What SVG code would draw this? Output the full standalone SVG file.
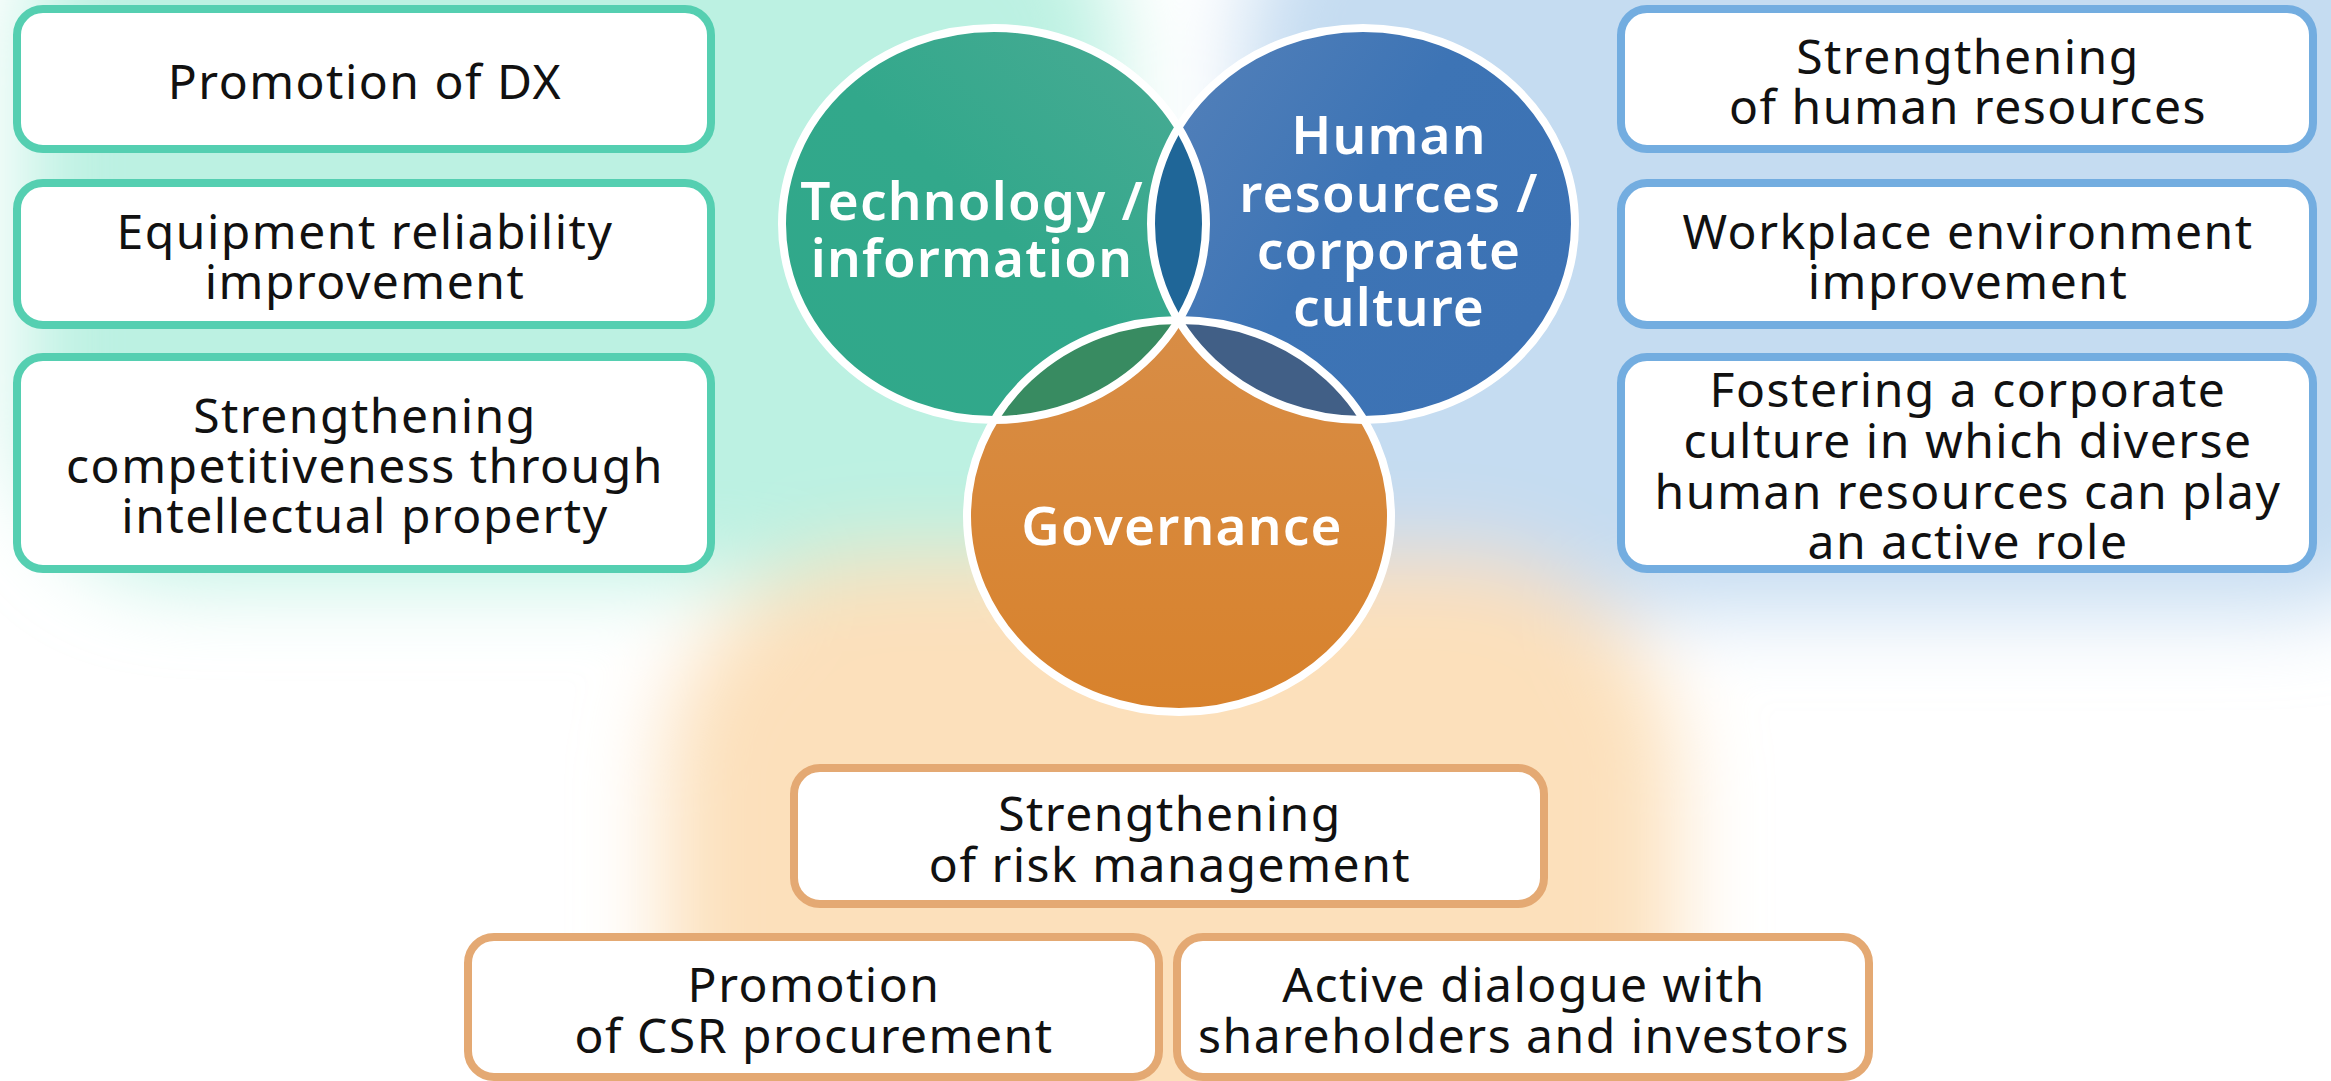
<svg xmlns="http://www.w3.org/2000/svg" width="2331" height="1081" viewBox="0 0 2331 1081">
  <defs>
    <style>
      .box { fill: #ffffff; stroke-width: 8; }
      .teal { stroke: #55cfb1; }
      .blue { stroke: #73ade0; }
      .amber { stroke: #e4a973; }
      .label { font-family: "Noto Sans", "Liberation Sans", sans-serif; font-size: 48px; letter-spacing: 1.5px; fill: #111111; text-anchor: middle; }
      .ring { fill: none; stroke: #ffffff; stroke-width: 8; }
      .title { font-family: "Noto Sans", "Liberation Sans", sans-serif; font-size: 53px; font-weight: 600; letter-spacing: 1.2px; fill: #ffffff; text-anchor: middle; }
    </style>
    <filter id="soft" filterUnits="userSpaceOnUse" x="-300" y="-300" width="2931" height="1681">
      <feGaussianBlur stdDeviation="42"/>
    </filter>
    <linearGradient id="gTech" x1="1" y1="0" x2="0" y2="1">
      <stop offset="0" stop-color="#4bab95"/>
      <stop offset="0.5" stop-color="#32a88b"/>
      <stop offset="1" stop-color="#30a88a"/>
    </linearGradient>
    <linearGradient id="gHuman" x1="0" y1="0" x2="1" y2="0.6">
      <stop offset="0" stop-color="#5682ba"/>
      <stop offset="0.55" stop-color="#3d74b5"/>
      <stop offset="1" stop-color="#3c72b4"/>
    </linearGradient>
    <linearGradient id="gGov" x1="0" y1="0" x2="0" y2="1">
      <stop offset="0" stop-color="#d88d46"/>
      <stop offset="1" stop-color="#d8822c"/>
    </linearGradient>
    <ellipse id="shTech" cx="994" cy="224" rx="212" ry="196"/>
    <ellipse id="shHuman" cx="1363" cy="224" rx="212" ry="196"/>
    <ellipse id="shGov" cx="1179" cy="516" rx="212" ry="196"/>
    <clipPath id="clipTech"><use href="#shTech"/></clipPath>
    <clipPath id="clipHuman"><use href="#shHuman"/></clipPath>
  </defs>

  <!-- soft coloured backdrops behind each cluster -->
  <rect width="2331" height="1081" fill="#ffffff"/>
  <g filter="url(#soft)">
    <rect x="25" y="-120" width="1090" height="700" rx="160" fill="#bcf1e2"/>
    <rect x="1245" y="-120" width="1200" height="730" rx="160" fill="#c5dcf1"/>
    <rect x="665" y="555" width="1010" height="640" rx="220" fill="#fce0bb"/>
  </g>

  <!-- three overlapping themes -->
  <g id="theme-technology">
    <use href="#shTech" fill="url(#gTech)"/>
  </g>
  <g id="theme-human">
    <use href="#shHuman" fill="url(#gHuman)"/>
  </g>
  <g id="theme-governance">
    <use href="#shGov" fill="url(#gGov)"/>
  </g>
  <g id="overlaps">
    <use href="#shHuman" fill="#1f6698" clip-path="url(#clipTech)"/>
    <use href="#shGov" fill="#388b61" clip-path="url(#clipTech)"/>
    <use href="#shGov" fill="#415f86" clip-path="url(#clipHuman)"/>
  </g>
  <g id="rings">
    <use href="#shTech" class="ring"/>
    <use href="#shHuman" class="ring"/>
    <use href="#shGov" class="ring"/>
  </g>
  <g id="theme-labels">
    <text class="title" x="972" y="220">Technology /</text>
    <text class="title" x="972" y="277">information</text>
    <text class="title" x="1389" y="154">Human</text>
    <text class="title" x="1389" y="212">resources /</text>
    <text class="title" x="1389" y="269">corporate</text>
    <text class="title" x="1389" y="326">culture</text>
    <text class="title" x="1182" y="545">Governance</text>
  </g>

  <!-- technology / information measures -->
  <g id="box-dx">
    <rect class="box teal" x="17" y="9" width="694" height="140" rx="26"/>
    <text class="label" x="365" y="99">Promotion of DX</text>
  </g>
  <g id="box-equipment">
    <rect class="box teal" x="17" y="183" width="694" height="142" rx="26"/>
    <text class="label" x="365" y="249">Equipment reliability</text>
    <text class="label" x="365" y="299">improvement</text>
  </g>
  <g id="box-ip">
    <rect class="box teal" x="17" y="357" width="694" height="212" rx="26"/>
    <text class="label" x="365" y="433">Strengthening</text>
    <text class="label" x="365" y="483">competitiveness through</text>
    <text class="label" x="365" y="533">intellectual property</text>
  </g>

  <!-- human resources / corporate culture measures -->
  <g id="box-hr">
    <rect class="box blue" x="1621" y="9" width="692" height="140" rx="26"/>
    <text class="label" x="1968" y="74">Strengthening</text>
    <text class="label" x="1968" y="124">of human resources</text>
  </g>
  <g id="box-workplace">
    <rect class="box blue" x="1621" y="183" width="692" height="142" rx="26"/>
    <text class="label" x="1968" y="249">Workplace environment</text>
    <text class="label" x="1968" y="299">improvement</text>
  </g>
  <g id="box-culture">
    <rect class="box blue" x="1621" y="357" width="692" height="212" rx="26"/>
    <text class="label" x="1968" y="407">Fostering a corporate</text>
    <text class="label" x="1968" y="458">culture in which diverse</text>
    <text class="label" x="1968" y="509">human resources can play</text>
    <text class="label" x="1968" y="559">an active role</text>
  </g>

  <!-- governance measures -->
  <g id="box-risk">
    <rect class="box amber" x="794" y="768" width="750" height="136" rx="26"/>
    <text class="label" x="1170" y="831">Strengthening</text>
    <text class="label" x="1170" y="882">of risk management</text>
  </g>
  <g id="box-csr">
    <rect class="box amber" x="468" y="937" width="691" height="140" rx="26"/>
    <text class="label" x="814" y="1002">Promotion</text>
    <text class="label" x="814" y="1053">of CSR procurement</text>
  </g>
  <g id="box-dialogue">
    <rect class="box amber" x="1177" y="937" width="692" height="140" rx="26"/>
    <text class="label" x="1524" y="1002">Active dialogue with</text>
    <text class="label" x="1524" y="1053">shareholders and investors</text>
  </g>
</svg>
